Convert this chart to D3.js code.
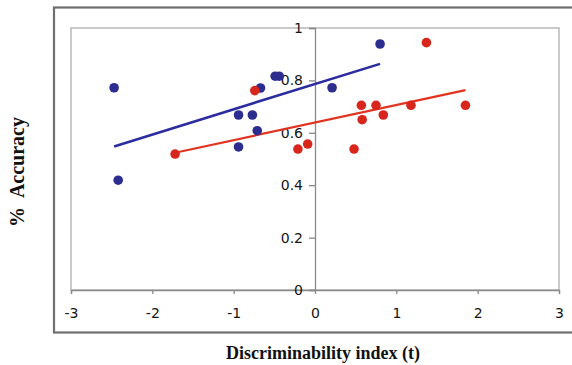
<!DOCTYPE html>
<html>
<head>
<meta charset="utf-8">
<script src="https://cdn.jsdelivr.net/npm/d3@7"></script>
<style>
  body { margin: 0; background: #fff; }
  svg { display: block; }
  .tick text { font-family: "DejaVu Sans", Verdana, sans-serif; font-size: 14px; fill: #151515; }
  .axis-title { font-family: "Liberation Serif", "Times New Roman", serif; font-weight: bold; fill: #111; white-space: pre; }
</style>
</head>
<body>
<div id="chart"></div>
<script>
// blue series (t, accuracy)
const blueX = [-2.47, -2.42, -0.94, -0.77, -0.71, -0.94, -0.49, -0.44, -0.67, 0.80, 0.21];
const blueY = [0.772, 0.419, 0.668, 0.668, 0.608, 0.546, 0.816, 0.816, 0.771, 0.939, 0.772];
// red series
const redX = [-1.72, -0.21, -0.09, -0.74, 1.37, 0.57, 0.75, 1.18, 1.85, 0.58, 0.84, 0.48];
const redY = [0.519, 0.538, 0.557, 0.761, 0.944, 0.705, 0.705, 0.705, 0.705, 0.650, 0.668, 0.538];

const xTicks = [-3, -2, -1, 0, 1, 2, 3];
const yTicks = [0, 0.2, 0.4, 0.6, 0.8, 1];
const yTickLabels = ['0', '0.2', '0.4', '0.6', '0.8', '1'];

const width = 572;
const height = 365;
const plot = { left: 71, right: 559, top: 28, bottom: 290 };

const x = d3.scaleLinear().domain([-3, 3]).range([plot.left, plot.right]);
const y = d3.scaleLinear().domain([0, 1]).range([plot.bottom, plot.top]);

const svg = d3
  .select('#chart')
  .append('svg')
  .attr('width', width)
  .attr('height', height);

svg.append('rect').attr('width', width).attr('height', height).attr('fill', '#fff');

// outer frame (runs off the right edge)
svg
  .append('rect')
  .attr('x', 54)
  .attr('y', 7.5)
  .attr('width', 560)
  .attr('height', 325)
  .attr('fill', 'none')
  .attr('stroke', '#6f6f6f')
  .attr('stroke-width', 2.2);

// plot area border
svg
  .append('rect')
  .attr('x', plot.left)
  .attr('y', plot.top)
  .attr('width', plot.right - plot.left)
  .attr('height', plot.bottom - plot.top)
  .attr('fill', 'none')
  .attr('stroke', '#b8b8b8')
  .attr('stroke-width', 1.5);

const xAxis = d3.axisBottom(x).tickValues(xTicks).tickSize(4).tickPadding(14).tickFormat(d3.format('d'));
const yAxis = d3
  .axisLeft(y)
  .tickValues(yTicks)
  .tickSize(6)
  .tickPadding(6)
  .tickFormat((d, i) => yTickLabels[i]);

const gx = svg
  .append('g')
  .attr('class', 'x axis')
  .attr('transform', 'translate(0,' + y(0) + ')')
  .call(xAxis);

const gy = svg
  .append('g')
  .attr('class', 'y axis')
  .attr('transform', 'translate(' + x(0) + ',0)')
  .call(yAxis);

[gx, gy].forEach(function(g) {
  g.selectAll('.domain, .tick line').attr('stroke', '#8a8a8a').attr('stroke-width', 1.3);
});
gx.selectAll('.tick text').text(function(d) { return d < 0 ? '-' + Math.abs(d) : d; });

// least squares trend line over the x range of a series
function trend(xs, ys) {
  const mx = d3.mean(xs);
  const my = d3.mean(ys);
  const sxy = d3.sum(xs, (v, i) => (v - mx) * (ys[i] - my));
  const sxx = d3.sum(xs, v => (v - mx) * (v - mx));
  const b = sxy / sxx;
  const a = my - b * mx;
  const [x0, x1] = d3.extent(xs);
  return [[x0, a + b * x0], [x1, a + b * x1]];
}

const line = d3.line().x(d => x(d[0])).y(d => y(d[1]));

const series = [
  { xs: blueX, ys: blueY, color: '#2c2d8e', lineColor: '#2b2ca0', lw: 2.6 },
  { xs: redX, ys: redY, color: '#d8261c', lineColor: '#e2331f', lw: 2.2 }
];

series.forEach(function(s) {
  svg
    .append('path')
    .datum(trend(s.xs, s.ys))
    .attr('d', line)
    .attr('fill', 'none')
    .attr('stroke', s.lineColor)
    .attr('stroke-width', s.lw);
});

series.forEach(function(s) {
  svg
    .append('g')
    .selectAll('circle')
    .data(s.xs.map((v, i) => [v, s.ys[i]]))
    .join('circle')
    .attr('cx', d => x(d[0]))
    .attr('cy', d => y(d[1]))
    .attr('r', 4.8)
    .attr('fill', s.color);
});

svg
  .append('text')
  .attr('class', 'axis-title')
  .attr('x', 323)
  .attr('y', 359)
  .attr('text-anchor', 'middle')
  .style('font-size', '18px')
  .text('Discriminability index (t)');

svg
  .append('text')
  .attr('class', 'axis-title')
  .attr('transform', 'translate(24,172) rotate(-90)')
  .attr('text-anchor', 'middle')
  .style('font-size', '20px')
  .text('%  Accuracy');
</script>
</body>
</html>
